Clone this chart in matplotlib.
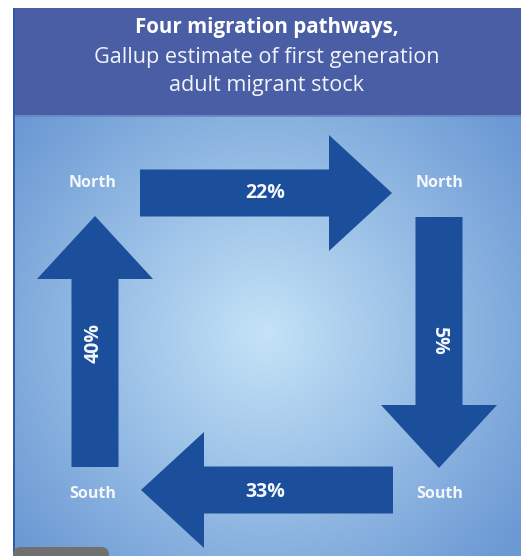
import numpy as np
import matplotlib.pyplot as plt
from matplotlib.patches import FancyArrow, Rectangle, FancyBboxPatch

# Data
title_lines = ["Four migration pathways,",
               "Gallup estimate of first generation",
               "adult migrant stock"]
corner_labels = ["North", "North", "South", "South"]
pathways = ["North to North", "North to South", "South to South", "South to North"]
shares = [22, 5, 33, 40]

# Layout (pixel coordinates, y grows downward)
W, H = 522, 556
panel = (13, 8, 521, 556)
arrow_dark = "#1b4f9c"
# start x, start y, end x, end y for each pathway arrow
arrows = [(140, 193, 392, 193),
          (439, 217, 439, 468),
          (393, 490, 141, 490),
          (95, 467, 95, 216)]
label_pos = [(93, 183), (440, 183), (440, 494), (93, 494)]
share_pos = [(265, 193, 0), (439, 340, -90), (265, 492, 0), (94, 343, 90)]

plt.rcParams['font.family'] = ['Open Sans', 'DejaVu Sans']

fig = plt.figure(figsize=(W / 100, H / 100), dpi=100)
ax = fig.add_axes([0, 0, 1, 1])
ax.set_xlim(0, W)
ax.set_ylim(H, 0)
ax.axis('off')

# radial gradient background
x0, y0, x1, y1 = panel
gx, gy = np.meshgrid(np.linspace(x0, x1, 300), np.linspace(y0, y1, 300))
r = np.sqrt(((gx - 265) / 300) ** 2 + ((gy - 335) / 300) ** 2)
r = np.clip(r / 1.08, 0, 1)
c_in = np.array([0.77, 0.89, 0.97])
c_out = np.array([0.42, 0.60, 0.83])
img = c_in[None, None, :] * (1 - r[..., None]) + c_out[None, None, :] * r[..., None]
ax.imshow(img, extent=(x0, x1, y1, y0), origin='upper', zorder=0, aspect='auto')

# title band
ax.add_patch(Rectangle((x0, y0), x1 - x0, 108, facecolor="#4a5ea6",
                       edgecolor='none', zorder=1))
ax.add_patch(Rectangle((x0, y0 + 107), x1 - x0, 2, facecolor="#6a88c4",
                       edgecolor='none', zorder=1))
ax.add_patch(Rectangle((x0, y0), 2, y1 - y0, facecolor="#2f5aa8",
                       edgecolor='none', zorder=1))
ax.text(267, 28, title_lines[0], ha='center', va='center', color='white',
        fontsize=14.8, fontweight='bold', zorder=3)
ax.text(267, 58, title_lines[1], ha='center', va='center', color='#f2f4fa',
        fontsize=15.6, zorder=3)
ax.text(267, 86, title_lines[2], ha='center', va='center', color='#f2f4fa',
        fontsize=15.6, zorder=3)

# arrows
for (sx, sy, ex, ey) in arrows:
    ax.add_patch(FancyArrow(sx, sy, ex - sx, ey - sy, width=47,
                            head_width=116, head_length=63,
                            length_includes_head=True,
                            facecolor=arrow_dark, edgecolor='none', zorder=2))

for lab, (lx, ly) in zip(corner_labels, label_pos):
    ax.text(lx, ly, lab, ha='center', va='center', color='#f4f7fc',
            fontsize=11.5, fontweight='bold', zorder=3)

for val, (px, py, rot) in zip(shares, share_pos):
    ax.text(px, py, f"{val}%", ha='center', va='center', color='#f4f7fc',
            fontsize=14, fontweight='bold', rotation=rot, zorder=3)

# grey tab at bottom-left corner
ax.add_patch(FancyBboxPatch((x0, 547), 96, 20,
                            boxstyle="round,pad=0,rounding_size=8",
                            facecolor="#707070", edgecolor='none', zorder=3))

fig.savefig('out.png', dpi=100)
